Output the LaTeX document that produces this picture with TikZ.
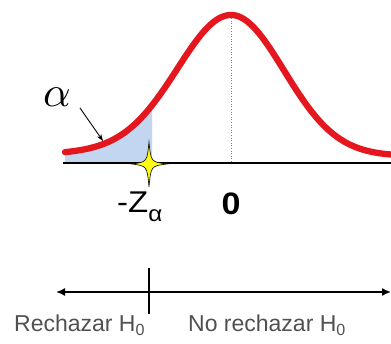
\documentclass[tikz,border=0pt]{standalone}
\usepackage{fontspec}
\setmainfont{Liberation Sans}
\usetikzlibrary{arrows.meta}
\definecolor{curvered}{RGB}{228,22,30}
\definecolor{tailblue}{RGB}{194,214,242}
\definecolor{labelgray}{RGB}{80,80,80}
\definecolor{staryellow}{RGB}{255,250,20}
\tikzset{
  curveline/.style={draw=curvered,line width=6.3pt,line cap=round},
  axisline/.style={draw=black,line width=2.6pt},
  meanline/.style={draw=gray,line width=0.6pt,dotted},
  rangearrow/.style={draw=black,line width=1.6pt,{Latex[length=9pt,width=8pt]}-{Latex[length=9pt,width=8pt]}},
  tickline/.style={draw=black,line width=2.2pt},
  pointer/.style={draw=black,line width=0.9pt,-{Stealth[length=7pt,width=5pt]}},
  axislabel/.style={font=\fontsize{30}{32}\selectfont,text=black,inner sep=0pt,xscale=1.1},
  regionlabel/.style={font=\fontsize{23}{26}\selectfont,text=labelgray,inner sep=0pt},
  starshape/.style={fill=staryellow,draw=black,line width=0.6pt},
  declare function={dens(\t)=156-141*((1-0.07*(\t<231))*exp(-0.5*((\t-231)/53)^2)+0.07*(\t<231)*exp(-0.5*((\t-231)/106)^2));}
}
\begin{document}
\begin{tikzpicture}[x=1pt,y=-1pt]
\useasboundingbox (0,0) rectangle (391,344);
% tail area
\fill[tailblue] (65,163) -- plot[domain=65:152,samples=60,smooth] (\x,{dens(\x)}) -- (152,163) -- cycle;
% mean line
\coordinate (peak) at (231,18);
\coordinate (mean) at (231,163);
\draw[meanline] (peak) -- (mean);
% axis
\coordinate (axL) at (63,163);
\coordinate (axR) at (391,163);
\draw[axisline] (axL) -- (axR);
% curve
\draw[curveline] plot[domain=65:394,samples=166,smooth] (\x,{dens(\x)});
% star
\coordinate (zc) at (149,164);
\draw[starshape] (149,142) .. controls (151,162) .. (167,164)
  .. controls (151,166) .. (149,187)
  .. controls (147,166) .. (132,164)
  .. controls (147,162) .. cycle;
% alpha
\node[inner sep=0pt] (alpha) at (57,97) {\scalebox{4.3}{$\alpha$}};
\coordinate (tailpt) at (103,141);
\draw[pointer] (80,108) -- (tailpt);
% axis labels
\node[axislabel,anchor=base west] (zlab) at (117,213) {-Z\raisebox{-0.3em}{\fontsize{22}{24}\selectfont α}};
\node[axislabel,anchor=base,font=\fontsize{31}{33}\selectfont\bfseries] (zero) at (231,215) {0};
% decision line
\coordinate (dL) at (56,292);
\coordinate (dR) at (391,292);
\draw[rangearrow] (dL) -- (dR);
\coordinate (tkT) at (149,268);
\coordinate (tkB) at (149,314);
\draw[tickline] (tkT) -- (tkB);
\node[regionlabel,anchor=base west] (rej) at (14,332) {Rechazar H\textsubscript{0}};
\node[regionlabel,anchor=base west] (norej) at (188,332) {No rechazar H\textsubscript{0}};
\end{tikzpicture}
\end{document}
